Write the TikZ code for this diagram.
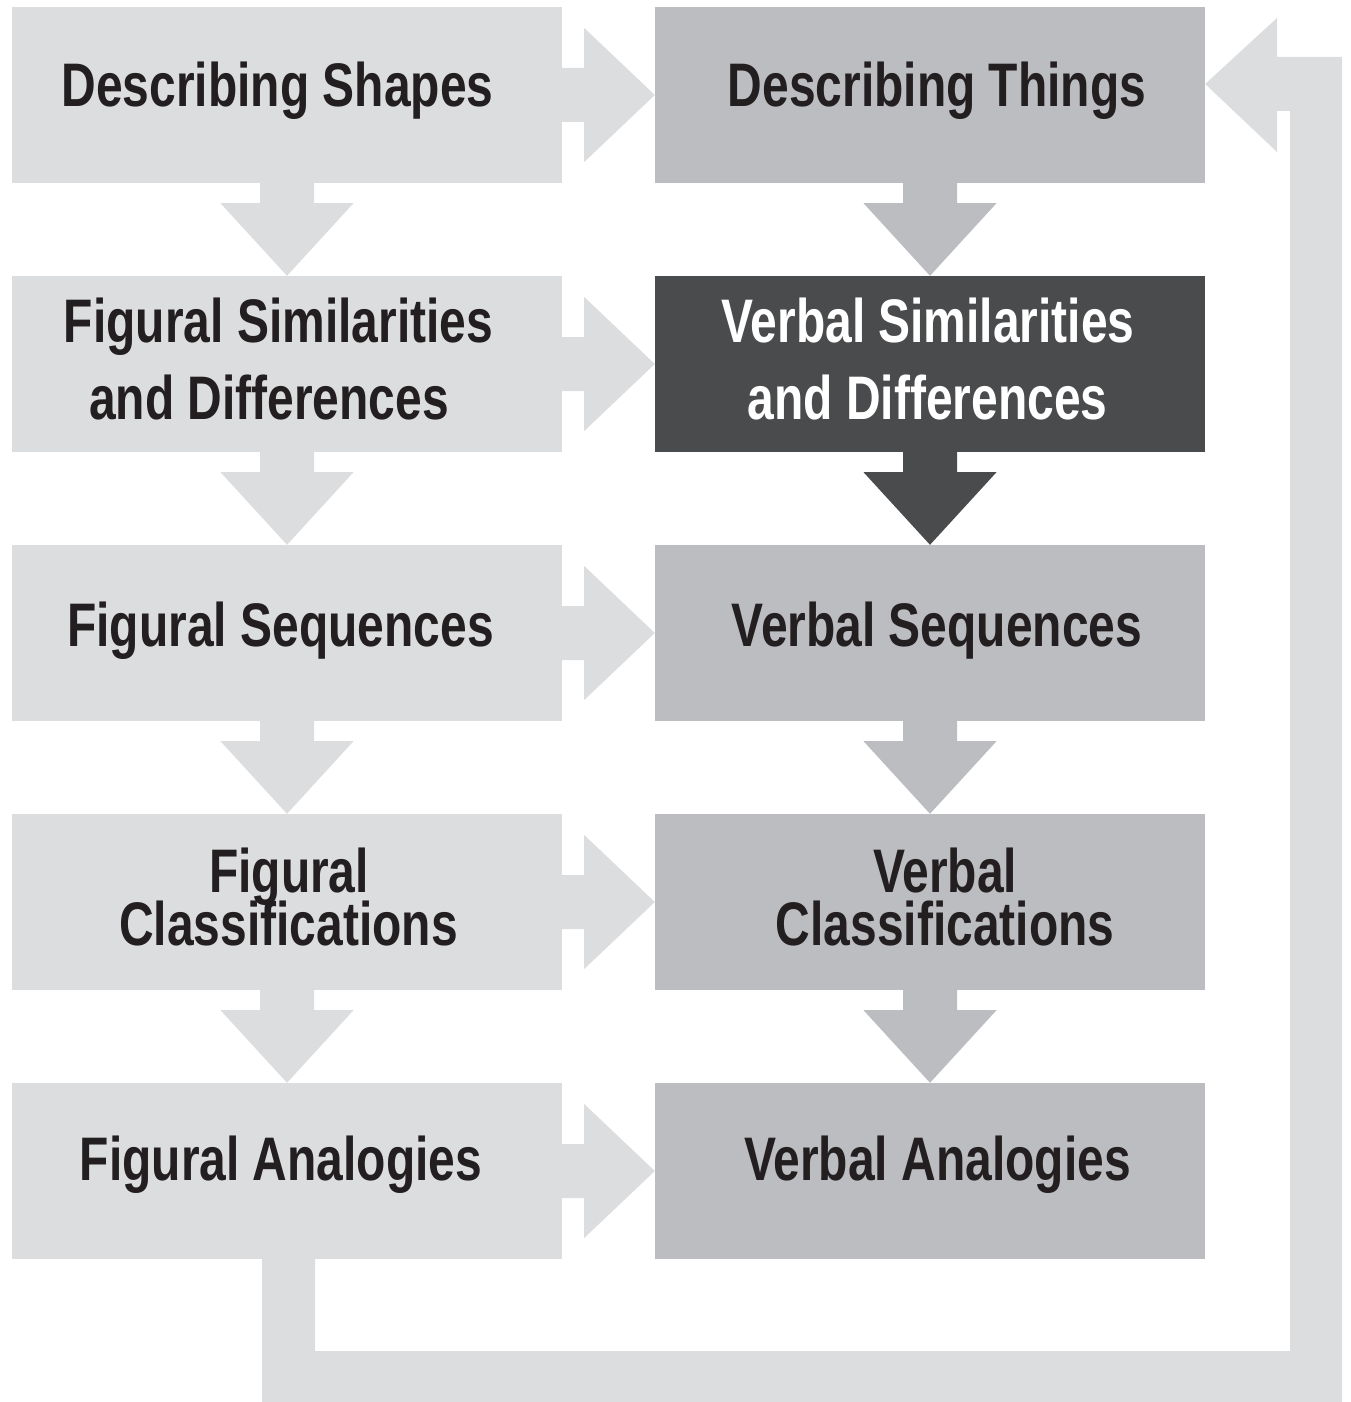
\documentclass[tikz,border=0pt]{standalone}
\usepackage{fontspec}
\setmainfont{Liberation Sans}[FakeStretch=0.78]
\usetikzlibrary{calc}
\definecolor{lg}{HTML}{DCDDDF}
\definecolor{mg}{HTML}{BCBDC0}
\definecolor{dg}{HTML}{4A4B4D}
\definecolor{ink}{HTML}{231F20}
\tikzset{
  box/.style={rectangle, inner sep=0pt, minimum width=550pt, minimum height=176pt, draw=none},
  lbl/.style={anchor=base, inner sep=0pt, font=\fontsize{61.5}{70}\selectfont\bfseries, text=ink},
  wlbl/.style={lbl, text=white},
}
\newcommand\DnArr[3]{%
  \fill[#3] ($(#1.south)+(-27,0)$) -- ($(#1.south)+(-27,20)$) -- ($(#1.south)+(-66.5,20)$)
    -- (#2.north) -- ($(#1.south)+(66.5,20)$) -- ($(#1.south)+(27,20)$) -- ($(#1.south)+(27,0)$) -- cycle;}
\newcommand\RtArr[3]{%
  \fill[#3] ($(#1.east)+(0,-27)$) -- ($(#1.east)+(22,-27)$) -- ($(#1.east)+(22,-67)$)
    -- (#2.west) -- ($(#1.east)+(22,67)$) -- ($(#1.east)+(22,27)$) -- ($(#1.east)+(0,27)$) -- cycle;}
\begin{document}
\begin{tikzpicture}[x=1pt,y=-1pt]
\useasboundingbox (0,0) rectangle (1351,1402);
% boxes
\node[box, fill=lg] (L1) at (287,95) {};
\node[box, fill=lg] (L2) at (287,364) {};
\node[box, fill=lg] (L3) at (287,633) {};
\node[box, fill=lg] (L4) at (287,902) {};
\node[box, fill=lg] (L5) at (287,1171) {};
\node[box, fill=mg] (R1) at (930,95) {};
\node[box, fill=dg] (R2) at (930,364) {};
\node[box, fill=mg] (R3) at (930,633) {};
\node[box, fill=mg] (R4) at (930,902) {};
\node[box, fill=mg] (R5) at (930,1171) {};
% down arrows
\DnArr{L1}{L2}{lg}
\DnArr{L2}{L3}{lg}
\DnArr{L3}{L4}{lg}
\DnArr{L4}{L5}{lg}
\DnArr{R1}{R2}{mg}
\DnArr{R2}{R3}{dg}
\DnArr{R3}{R4}{mg}
\DnArr{R4}{R5}{mg}
% right arrows
\RtArr{L1}{R1}{lg}
\RtArr{L2}{R2}{lg}
\RtArr{L3}{R3}{lg}
\RtArr{L4}{R4}{lg}
\RtArr{L5}{R5}{lg}
% feedback arrow
\coordinate (fbtip) at ($(R1.east)+(0,-11)$);
\fill[lg] ($(L5.south)+(-25,0)$) -- ($(L5.south)+(-25,143)$) -- (1342,1402) -- (1342,57)
  -- (1277,57) -- (1277,18) -- (fbtip) -- (1277,152) -- (1277,111) -- (1290,111)
  -- (1290,1351) -- ($(L5.south)+(28,92)$) -- ($(L5.south)+(28,0)$) -- cycle;
% labels
\node[lbl] (t1) at (277.5,107) {Describing Shapes};
\node[lbl] (t2) at (937,107) {Describing Things};
\node[lbl] (t3a) at (278.5,342) {Figural Similarities};
\node[lbl] (t3b) at (269,419) {and Differences};
\node[wlbl] (t4a) at (928,342) {Verbal Similarities};
\node[wlbl] (t4b) at (927.5,419) {and Differences};
\node[lbl] (t5) at (280.5,646) {Figural Sequences};
\node[lbl] (t6) at (937,646) {Verbal Sequences};
\node[lbl] (t7a) at (289,892) {Figural};
\node[lbl] (t7b) at (288.5,945) {Classifications};
\node[lbl] (t8a) at (945,892) {Verbal};
\node[lbl] (t8b) at (945,945) {Classifications};
\node[lbl] (t9) at (281,1180) {Figural Analogies};
\node[lbl] (t10) at (937.5,1180) {Verbal Analogies};
\end{tikzpicture}
\end{document}
